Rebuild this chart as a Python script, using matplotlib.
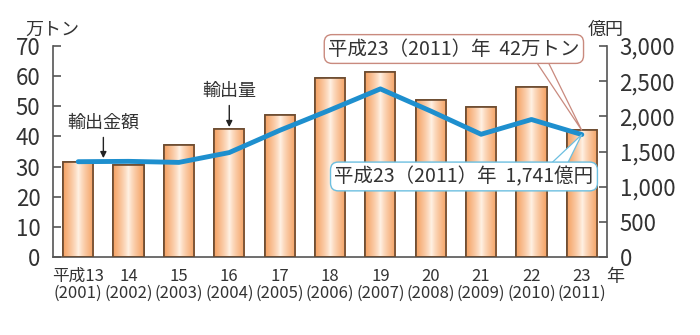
import numpy as np
import matplotlib
matplotlib.use('Agg')
import matplotlib.pyplot as plt
from matplotlib.patches import Polygon

plt.rcParams['font.family'] = ['Noto Sans CJK JP', 'DejaVu Sans']

# 輸出量（万トン）と輸出金額（億円）
nengo = ['平成13', '14', '15', '16', '17', '18', '19', '20', '21', '22', '23']
seireki = ['2001', '2002', '2003', '2004', '2005', '2006', '2007', '2008', '2009', '2010', '2011']
ryou = [31.5, 30.5, 37, 42.5, 47, 59.5, 61.5, 52, 49.7, 56.5, 42]
kingaku = [1355, 1360, 1345, 1485, 1800, 2090, 2390, 2075, 1745, 1955, 1741]

x = np.arange(len(nengo))

fig = plt.figure(figsize=(7, 3.35), dpi=100)
ax = fig.add_axes([53/700, 1-257/335, 554/700, 211/335])
ax2 = ax.twinx()

# 棒グラフ（グラデーション付き）
bars = ax.bar(x, ryou, width=0.6, color='#f7b07c', edgecolor='#6b4a2f', linewidth=1.2, zorder=2)
grad = np.abs(np.linspace(-1, 1, 64)) ** 0.8
grad = np.vstack([grad, grad])
cmap = matplotlib.colors.LinearSegmentedColormap.from_list('orange', ['#fff0e2', '#f5a264'])
for b in bars:
    im = ax.imshow(grad, cmap=cmap, aspect='auto', zorder=2.5,
                   extent=[b.get_x(), b.get_x()+b.get_width(), 0, b.get_height()])
    im.set_clip_path(b)
    edge = plt.Rectangle((b.get_x(), 0), b.get_width(), b.get_height(), fill=False,
                         edgecolor='#6b4a2f', linewidth=1.2, zorder=3)
    ax.add_patch(edge)

ax.set_xlim(-0.5, 10.5)
ax.set_ylim(0, 70)
ax.set_yticks(range(0, 71, 10))
ax2.set_ylim(0, 3000)
ax2.set_yticks(range(0, 3001, 500))
ax2.set_yticklabels([f'{v:,}' for v in range(0, 3001, 500)])

# 折れ線（輸出金額）
ax2.plot(x, kingaku, color='#1e8fce', linewidth=3.5, solid_joinstyle='round',
         solid_capstyle='round', zorder=4)

for a in (ax, ax2):
    a.spines['top'].set_visible(False)
    for s in a.spines.values():
        s.set_color('#555555')
        s.set_linewidth(1.2)
ax.spines['right'].set_visible(False)
ax2.spines['left'].set_visible(False)
ax2.spines['bottom'].set_visible(False)

ax.tick_params(axis='y', direction='in', length=6, width=1.2, color='#555555',
               labelsize=16, pad=9, labelcolor='#333333')
ax2.tick_params(axis='y', direction='in', length=6, width=1.2, color='#555555',
                labelsize=16, pad=9, labelcolor='#333333')
ax.set_xticks(x)
ax.set_xticklabels([f'{n}\n({s})' for n, s in zip(nengo, seireki)], linespacing=1.0)
ax.tick_params(axis='x', length=0, labelsize=12, pad=8, labelcolor='#333333')

fig.text(25/700, 1-30/335, '万トン', fontsize=13, color='#333333', va='center', ha='left')
fig.text(606/700, 1-30/335, '億円', fontsize=13, color='#333333', va='center', ha='center')
fig.text(615/700, 1-277/335, '年', fontsize=13, color='#333333', va='center', ha='center')

# 注記
ax.annotate('輸出金額', xy=(0.5, 32.8), xytext=(0.5, 44.5), ha='center', va='center',
            fontsize=13, color='#333333',
            arrowprops=dict(arrowstyle='-|>', color='#222222', lw=1, mutation_scale=9,
                            shrinkA=2, shrinkB=0), zorder=5)
ax.annotate('輸出量', xy=(3.0, 43.1), xytext=(3.0, 55.1), ha='center', va='center',
            fontsize=13, color='#333333',
            arrowprops=dict(arrowstyle='-|>', color='#222222', lw=1, mutation_scale=9,
                            shrinkA=2, shrinkB=0), zorder=5)

# 吹き出し（輸出量）
ax.add_patch(Polygon([[9.07, 65.4], [9.31, 65.4], [10, ryou[-1]]], closed=True,
                     facecolor='white', edgecolor='#c98a7e', linewidth=0.9, zorder=6))
ax.text(7.46, 69.0, f'平成23（2011）年  {ryou[-1]:.0f}万トン', ha='center', va='center',
        fontsize=14, color='#333333', zorder=7,
        bbox=dict(boxstyle='round,pad=0.2,rounding_size=0.4', facecolor='white',
                  edgecolor='#c98a7e', linewidth=1.0))

# 吹き出し（輸出金額）
ax2.add_patch(Polygon([[9.40, 1336], [9.72, 1336], [10, kingaku[-1]]], closed=True,
                      facecolor='white', edgecolor='#6cbfe0', linewidth=0.9, zorder=6))
ax2.text(7.66, 1145, f'平成23（2011）年  {kingaku[-1]:,}億円', ha='center', va='center',
         fontsize=14, color='#333333', zorder=7,
         bbox=dict(boxstyle='round,pad=0.2,rounding_size=0.4', facecolor='white',
                   edgecolor='#6cbfe0', linewidth=1.0))

fig.savefig('out.png', dpi=100)
